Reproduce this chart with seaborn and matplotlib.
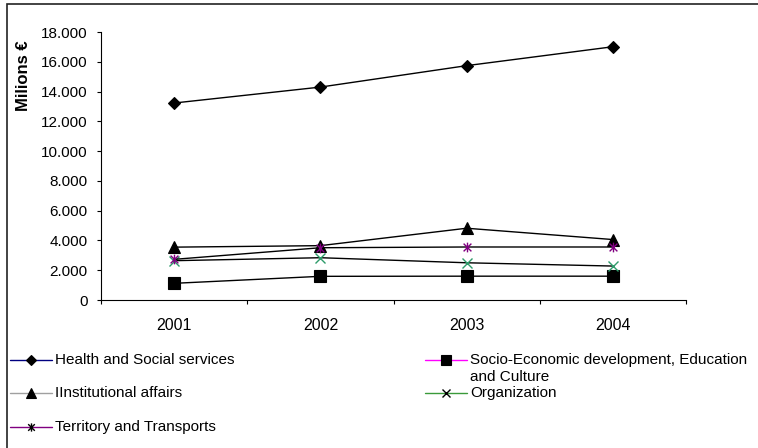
import numpy as np
import pandas as pd
import matplotlib
matplotlib.use("Agg")
import matplotlib.pyplot as plt
from matplotlib.lines import Line2D
from matplotlib.patches import Rectangle
from matplotlib.path import Path
from matplotlib.ticker import FixedLocator, FuncFormatter, NullFormatter
import seaborn as sns

# Expenditure by function, millions of euro
years = ["2001", "2002", "2003", "2004"]
health = [13230, 14300, 15740, 17010]
socio = [1120, 1590, 1600, 1600]
institutional = [3550, 3650, 4820, 4060]
organization = [2640, 2840, 2500, 2280]
territory = [2730, 3510, 3560, 3560]

labels = [
    "Health and Social services",
    "Socio-Economic development, Education\nand Culture",
    "IInstitutional affairs",
    "Organization",
    "Territory and Transports",
]

sns.set_theme(style="white")
plt.rcParams["font.family"] = ["Liberation Sans", "DejaVu Sans"]

W, H = 758, 448
fig = plt.figure(figsize=(W / 100, H / 100), dpi=100)
fig.patch.set_facecolor("white")


def fx(x):
    return x / W


def fy(y):
    return 1 - y / H


ax = fig.add_axes([fx(101), fy(300), fx(686) - fx(101), fy(32) - fy(300)])
ax.set_facecolor("white")

# asterisk marker: an X with a vertical stroke
star = Path(
    [(-1, -1), (1, 1), (-1, 1), (1, -1), (0, -1.25), (0, 1.25)],
    [Path.MOVETO, Path.LINETO, Path.MOVETO, Path.LINETO, Path.MOVETO, Path.LINETO],
)

series = [
    dict(values=health, marker="D", ms=6.5, mfc="black", mec="black", mew=0.8,
         key_color="#000080"),
    dict(values=socio, marker="s", ms=8.5, mfc="black", mec="black", mew=0.8,
         key_color="#FF00FF"),
    dict(values=institutional, marker="^", ms=8.5, mfc="black", mec="black", mew=0.8,
         key_color="#A0A0A0"),
    dict(values=organization, marker="x", ms=7, mfc="none", mec="#2E9B6A", mew=1.0,
         key_color="#3A9A3A"),
    dict(values=territory, marker=star, ms=7, mfc="none", mec="#800080", mew=1.0,
         key_color="#800080"),
]

pos = np.arange(len(years))
df = pd.DataFrame({
    "pos": np.tile(pos, len(series)),
    "value": np.concatenate([s["values"] for s in series]),
    "series": np.repeat(labels, len(years)),
})

for lab, s in zip(labels, series):
    sub = df[df["series"] == lab]
    sns.lineplot(data=sub, x="pos", y="value", ax=ax, color="black", lw=1.0,
                 marker=s["marker"], ms=s["ms"], mfc=s["mfc"], mec=s["mec"],
                 mew=s["mew"], estimator=None, legend=False, zorder=3)

ax.set_xlim(-0.5, 3.5)
ax.set_ylim(0, 18000)
ax.set_xlabel("")
ax.set_ylabel("Milions €", fontsize=12, fontweight="bold", color="black")
ax.yaxis.set_label_coords((31 - 101) / 585, (300 - 76) / 268)

ax.set_yticks(np.arange(0, 18001, 2000))
ax.yaxis.set_major_formatter(FuncFormatter(lambda v, p: f"{int(v):,}".replace(",", ".")))
ax.tick_params(axis="y", which="major", direction="out", length=3, width=0.8,
               color="black", labelsize=11, labelcolor="black", pad=6.5, left=True)

ax.xaxis.set_major_locator(FixedLocator(np.arange(-0.5, 3.6, 1.0)))
ax.xaxis.set_major_formatter(NullFormatter())
ax.xaxis.set_minor_locator(FixedLocator(pos))
ax.set_xticklabels(years, minor=True)
ax.tick_params(axis="x", which="major", direction="out", length=3, width=0.8,
               color="black", bottom=True)
ax.tick_params(axis="x", which="minor", length=0, labelsize=11.5, labelcolor="black",
               pad=13)

for side in ["top", "right"]:
    ax.spines[side].set_visible(False)
for side in ["left", "bottom"]:
    ax.spines[side].set_color("black")
    ax.spines[side].set_linewidth(0.8)

# legend keys below the plot, two columns
key_rows = [(0, 360), (2, 393), (4, 427)]
key_rows2 = [(1, 360), (3, 393)]


def draw_key(idx, x0, y):
    s = series[idx]
    fig.add_artist(Line2D([fx(x0), fx(x0 + 42)], [fy(y), fy(y)],
                          transform=fig.transFigure, color=s["key_color"], lw=1.0))
    fig.add_artist(Line2D([fx(x0 + 21)], [fy(y)], transform=fig.transFigure,
                          marker=s["marker"], ms=s["ms"] * 0.85, mfc=s["mfc"],
                          mec="black", mew=s["mew"], lw=0))
    txt = labels[idx]
    if "\n" in txt:
        fig.text(fx(x0 + 45), fy(y - 7), txt, ha="left", va="top",
                 fontsize=11, color="black", linespacing=1.25)
    else:
        fig.text(fx(x0 + 45), fy(y), txt, ha="left", va="center",
                 fontsize=11, color="black")


for idx, y in key_rows:
    draw_key(idx, 10, y)
for idx, y in key_rows2:
    draw_key(idx, 425, y)

# outer frame of the chart area
fig.add_artist(Rectangle((fx(7), fy(H + 40)), fx(W + 40) - fx(7), fy(4) - fy(H + 40),
                         transform=fig.transFigure, fill=False, edgecolor="#222222",
                         lw=1.2))

fig.savefig("out.png", dpi=100, facecolor="white")
